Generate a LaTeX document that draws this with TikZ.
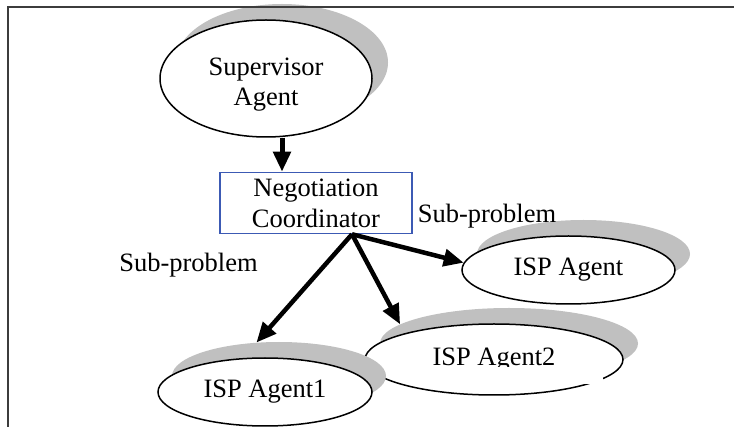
\documentclass[tikz,border=0pt]{standalone}
\usepackage{fontspec}
\setmainfont{Liberation Serif}
\usetikzlibrary{shapes.geometric,arrows.meta,calc}
\definecolor{shad}{RGB}{192,192,192}
\definecolor{boxblue}{RGB}{60,90,180}
\definecolor{framecol}{RGB}{60,60,60}
\begin{document}
\begin{tikzpicture}[x=1pt,y=-1pt,
  font=\fontsize{26.5}{30}\selectfont,
  ell/.style={ellipse, draw=black, line width=1.5pt, fill=white, inner sep=0pt},
  shd/.style={ellipse, fill=shad, draw=none, inner sep=0pt},
  lbl/.style={inner sep=0pt, align=center},
  bigarrow/.style={line width=4.5pt, -{Triangle[length=20pt,width=17pt]}}]
\useasboundingbox (0,0) rectangle (734,427);
\fill[white] (0,0) rectangle (734,427);

% Supervisor
\node[shd, minimum width=212pt, minimum height=117pt] (sups) at (282,62.5) {};
\node[ell, minimum width=212pt, minimum height=117pt] (sup) at (266,78.5) {};
\node[lbl] (supt) at (266,84.3) {Supervisor\\Agent};

% Negotiation coordinator box
\node[draw=boxblue, line width=1.5pt, fill=white, inner sep=0pt, align=center,
      minimum width=192pt, minimum height=61pt,
      font=\fontsize{26.5}{31}\selectfont] (coord) at (316,203) {Negotiation\\Coordinator};

% ISP Agent
\node[shd, minimum width=213pt, minimum height=68pt] (isps) at (583.5,254) {};
\node[ell, minimum width=213pt, minimum height=68pt] (isp) at (568.5,270) {ISP Agent};

% ISP Agent2
\node[shd, minimum width=258pt, minimum height=71pt] (isp2s) at (509,343.5) {};
\node[ell, minimum width=258pt, minimum height=71pt] (isp2) at (494,359.5) {ISP Agent2};

% ISP Agent1
\node[shd, minimum width=214pt, minimum height=68pt] (isp1s) at (279,376) {};
\node[ell, minimum width=214pt, minimum height=68pt] (isp1) at (265,392) {ISP Agent1};

% labels
\node[lbl, anchor=base] (sp1) at (188.5,272) {Sub-problem};
\node[lbl, anchor=base] (sp2) at (487,222.5) {Sub-problem};

% arrows
\draw[bigarrow, line width=5pt] ([xshift=16pt]sup.south) -- ([xshift=-34pt]coord.north);
\coordinate (src) at ([xshift=36pt]coord.south);
\draw[bigarrow] (src) -- (isp.176);
\draw[bigarrow] (src) -- (isp2s.170);
\draw[bigarrow] (src) -- (isp1s.124);

% white patch over the bottom of ISP Agent2
\fill[white] (440,367.5) rectangle (603,384);

% frame
\draw[framecol, line width=1.2pt] (8,427) -- (8,7) -- (734,7);
\end{tikzpicture}
\end{document}
